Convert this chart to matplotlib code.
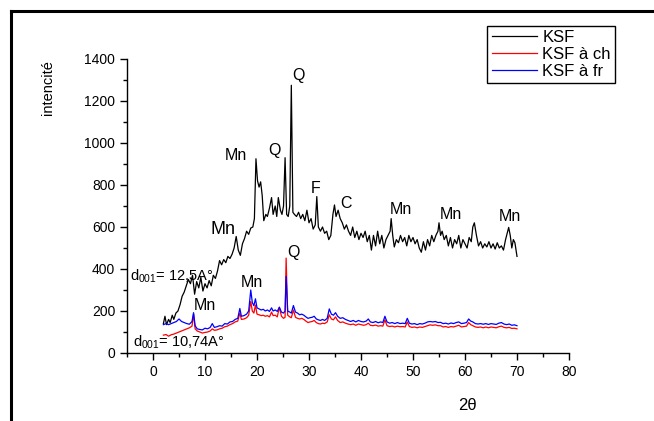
import matplotlib
matplotlib.use("Agg")
import matplotlib.pyplot as plt
from matplotlib.lines import Line2D
from matplotlib.ticker import MultipleLocator

plt.rcParams['font.family'] = ['Liberation Sans', 'DejaVu Sans']
plt.rcParams['mathtext.default'] = 'regular'

# ---- data ----
ksf_x = [2.0, 2.3, 2.6, 3.0, 3.3, 3.7, 4.0, 4.4, 4.8, 5.2, 5.6, 6.0, 6.4, 6.8, 7.2, 7.6, 8.0, 8.4, 8.8, 9.2,
         9.6, 10.0, 10.4, 10.8, 11.2, 11.6, 12.0, 12.4, 12.8, 13.2, 13.6, 14.0, 14.4, 14.8, 15.2, 15.6, 16.0,
         16.4, 16.8, 17.2, 17.6, 18.0, 18.4, 18.8, 19.2, 19.5, 19.8, 20.1, 20.4, 20.7, 21.0, 21.3, 21.7, 22.0,
         22.4, 22.8, 23.1, 23.5, 23.8, 24.1, 24.5, 24.8, 25.1, 25.4, 25.7, 26.0, 26.3, 26.6, 26.9, 27.2, 27.6,
         28.0, 28.4, 28.8, 29.2, 29.6, 30.0, 30.4, 30.8, 31.2, 31.5, 31.8, 32.2, 32.6, 33.0, 33.4, 33.8, 34.2,
         34.6, 34.9, 35.2, 35.6, 36.0, 36.4, 36.8, 37.2, 37.6, 38.0, 38.4, 38.8, 39.2, 39.6, 40.0, 40.4, 40.8,
         41.2, 41.6, 42.0, 42.4, 42.8, 43.2, 43.6, 44.0, 44.4, 44.8, 45.2, 45.6, 45.8, 46.1, 46.4, 46.8, 47.2,
         47.6, 48.0, 48.4, 48.8, 49.2, 49.6, 50.0, 50.4, 50.8, 51.2, 51.6, 52.0, 52.4, 52.8, 53.2, 53.6, 54.0,
         54.4, 54.8, 55.0, 55.3, 55.6, 56.0, 56.4, 56.8, 57.2, 57.6, 58.0, 58.4, 58.8, 59.2, 59.6, 60.0, 60.4,
         60.8, 61.2, 61.5, 61.8, 62.2, 62.6, 63.0, 63.4, 63.8, 64.2, 64.6, 65.0, 65.4, 65.8, 66.2, 66.6, 67.0,
         67.4, 67.8, 68.1, 68.4, 68.7, 69.0, 69.3, 69.6, 70.0]
ksf_y = [140, 175, 135, 160, 145, 180, 160, 190, 200, 230, 270, 290, 320, 350, 330, 370, 280, 340, 310, 360,
         295, 330, 310, 345, 320, 370, 355, 390, 440, 420, 445, 430, 460, 450, 470, 500, 555,
         490, 465, 520, 545, 580, 565, 595, 600, 640, 925, 820, 790, 815, 750, 630, 660, 650,
         690, 740, 660, 700, 650, 740, 680, 660, 700, 930, 660, 650, 700, 1275, 670, 660, 650,
         670, 640, 660, 630, 680, 620, 640, 590, 610, 745, 600, 580, 600, 570, 580, 540, 560,
         660, 705, 650, 680, 640, 620, 590, 610, 580, 560, 600, 550, 580, 540, 570, 550, 580,
         530, 560, 490, 560, 510, 580, 520, 560, 500, 540, 560, 580, 640, 560, 505, 540, 525,
         560, 530, 550, 510, 560, 530, 550, 520, 540, 500, 480, 530, 490, 540, 510, 560, 530,
         560, 580, 620, 560, 580, 540, 560, 510, 550, 500, 540, 520, 560, 500, 540, 520, 500,
         550, 530, 600, 620, 560, 510, 530, 500, 520, 505, 530, 500, 520, 495, 525, 500, 510,
         490, 540, 570, 598, 560, 500, 540, 525, 460]

fr_x = [2.0, 2.5, 3.0, 3.5, 4.0, 4.5, 5.0, 5.5, 6.0, 6.5, 7.0, 7.5, 7.8, 8.1, 8.5, 9.0, 9.5, 10.0, 10.5, 11.0,
        11.4, 11.8, 12.3, 12.8, 13.3, 13.8, 14.3, 14.8, 15.3, 15.8, 16.3, 16.7, 17.0, 17.5, 18.0, 18.4, 18.8,
        19.1, 19.4, 19.7, 20.0, 20.4, 20.8, 21.2, 21.6, 22.0, 22.4, 22.8, 23.1, 23.5, 23.9, 24.3, 24.7, 25.1,
        25.4, 25.6, 25.9, 26.3, 26.6, 27.0, 27.4, 27.8, 28.2, 28.6, 29.0, 29.4, 29.8, 30.2, 30.6, 31.0, 31.4,
        31.8, 32.2, 32.6, 33.0, 33.5, 33.9, 34.3, 34.7, 35.1, 35.5, 36.0, 36.5, 37.0, 37.5, 38.0, 38.5, 39.0,
        39.5, 40.0, 40.5, 41.0, 41.4, 41.8, 42.3, 42.8, 43.3, 43.8, 44.2, 44.6, 45.0, 45.5, 46.0, 46.5, 47.0,
        47.5, 48.0, 48.5, 48.9, 49.3, 49.8, 50.3, 50.8, 51.3, 51.8, 52.3, 52.8, 53.3, 53.8, 54.3, 54.8, 55.3,
        55.8, 56.3, 56.8, 57.3, 57.8, 58.3, 58.8, 59.3, 59.8, 60.3, 60.7, 61.1, 61.5, 62.0, 62.5, 63.0, 63.5,
        64.0, 64.5, 65.0, 65.5, 66.0, 66.5, 67.0, 67.5, 68.0, 68.5, 69.0, 69.5, 70.0]
fr_y = [135, 140, 135, 140, 145, 150, 162, 150, 145, 140, 137, 150, 192, 130, 115, 112, 110, 118, 115, 122,
        140, 122, 125, 130, 128, 140, 138, 148, 150, 160, 165, 212, 175, 178, 185, 200, 300,
        240, 225, 258, 215, 210, 205, 208, 200, 205, 198, 215, 200, 205, 198, 218, 195, 190,
        200, 365, 200, 195, 190, 226, 195, 190, 182, 185, 180, 172, 165, 168, 170, 175, 162,
        158, 155, 160, 155, 165, 210, 185, 180, 192, 175, 165, 168, 160, 155, 150, 155, 148,
        155, 150, 148, 152, 162, 148, 145, 150, 144, 148, 145, 175, 148, 142, 145, 140, 145,
        140, 142, 140, 165, 142, 138, 140, 135, 140, 138, 142, 148, 150, 148, 150, 145, 146,
        140, 142, 138, 143, 140, 145, 148, 140, 142, 145, 162, 152, 148, 140, 138, 140, 137,
        140, 136, 140, 138, 136, 142, 145, 138, 135, 138, 132, 134, 130]

ch_x = fr_x
ch_y = [85, 88, 80, 87, 90, 95, 100, 105, 110, 115, 120, 128, 185, 115, 105, 100, 95, 98, 100, 105,
        115, 108, 110, 115, 118, 125, 128, 135, 140, 148, 152, 190, 160, 162, 168, 180, 245,
        200, 190, 228, 185, 182, 178, 180, 175, 178, 172, 195, 178, 180, 172, 218, 175, 165,
        170, 452, 180, 172, 168, 205, 170, 165, 162, 165, 160, 152, 145, 148, 150, 155, 145,
        140, 138, 142, 140, 148, 182, 162, 158, 172, 155, 145, 148, 142, 138, 135, 138, 132,
        138, 135, 132, 135, 142, 132, 130, 133, 128, 130, 128, 158, 130, 126, 128, 124, 128,
        125, 126, 124, 148, 126, 122, 124, 120, 124, 122, 126, 130, 134, 132, 134, 130, 130,
        124, 126, 122, 126, 124, 128, 132, 124, 126, 128, 145, 135, 130, 124, 122, 124, 120,
        124, 120, 124, 122, 120, 125, 128, 122, 120, 122, 117, 118, 115]

series_labels = ["KSF", "KSF à ch", "KSF à fr"]

# peak annotations: (text, x, y, size)
peak_text = ["Mn", "Mn", "Q", "Q", "F", "C", "Mn", "Mn", "Mn", "Q", "Mn", "Mn"]
peak_x = [11.0, 13.8, 22.2, 26.8, 30.4, 36.1, 45.6, 55.2, 66.4, 25.8, 16.9, 7.8]
peak_y = [590, 940, 965, 1320, 785, 710, 685, 660, 650, 480, 335, 228]
peak_size = [13, 11.5, 11.5, 11.5, 11.5, 11.5, 11.5, 11.5, 11.5, 11.5, 11.5, 11.5]

fig = plt.figure(figsize=(6.54, 4.21), dpi=100)
ax = fig.add_axes([127/654, 1 - 353/421, (569 - 127)/654, (353 - 59)/421])

ax.plot(ksf_x, ksf_y, color='black', lw=0.9, label=series_labels[0])
ax.plot(ch_x, ch_y, color='red', lw=0.9, label=series_labels[1])
ax.plot(fr_x, fr_y, color='blue', lw=0.9, label=series_labels[2])

ax.set_xlim(-5, 80)
ax.set_ylim(0, 1400)
ax.xaxis.set_major_locator(MultipleLocator(10))
ax.xaxis.set_minor_locator(MultipleLocator(5))
ax.yaxis.set_major_locator(MultipleLocator(200))
ax.yaxis.set_minor_locator(MultipleLocator(100))
for s in ['top', 'right']:
    ax.spines[s].set_visible(False)
for s in ['left', 'bottom']:
    ax.spines[s].set_linewidth(1.0)
ax.tick_params(which='major', direction='out', length=5, width=1, labelsize=10)
ax.tick_params(which='minor', direction='out', length=3, width=1)

for t, x, y, s in zip(peak_text, peak_x, peak_y, peak_size):
    ax.text(x, y, t, fontsize=s, ha='left', va='center')

ax.text(-4.4, 367, "d$_{001}$= 12,5A°", fontsize=10.5, ha='left', va='center')
ax.text(-3.9, 50, "d$_{001}$= 10,74A°", fontsize=10.5, ha='left', va='center')

leg = fig.legend(loc='upper right', bbox_to_anchor=(615/654, 1 - 26/421), fontsize=12,
                 frameon=True, fancybox=False, edgecolor='black', framealpha=1,
                 handlelength=2.7, labelspacing=0.1, borderpad=0.25, handletextpad=0.35,
                 borderaxespad=0)
leg.get_frame().set_linewidth(1.0)

fig.text(48/654, 1 - 88/421, "intencité", rotation=90, fontsize=10.5, ha='center', va='center')
fig.text(467/654, 1 - 405/421, "2θ", fontsize=12, ha='center', va='center')

# outer frame (left and top edges)
fig.add_artist(Line2D([11/654, 11/654], [0, 1 - 11/421], color='black', lw=2.2,
                      transform=fig.transFigure))
fig.add_artist(Line2D([11/654, 1], [1 - 11/421, 1 - 11/421], color='black', lw=2.2,
                      transform=fig.transFigure))

fig.savefig("out.png", dpi=100)
